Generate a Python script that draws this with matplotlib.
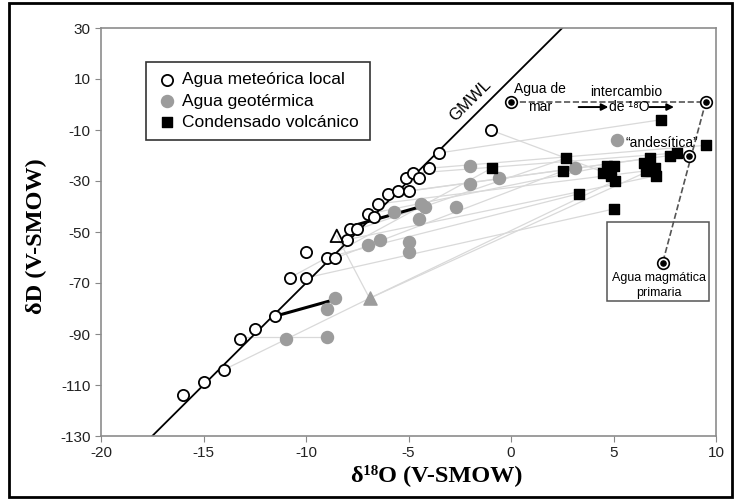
import matplotlib
matplotlib.use("Agg")
import matplotlib.pyplot as plt
from matplotlib.patches import Rectangle, FancyArrowPatch
import numpy as np

# fuentes
plt.rcParams["font.family"] = ["Liberation Sans", "DejaVu Sans"]
plt.rcParams["axes.unicode_minus"] = False

# ===================== datos =====================
# agua meteórica local (círculos abiertos)
met_x = [-16.0, -15.0, -14.0, -13.2, -12.5, -11.5, -10.8, -10.0, -10.0, -9.0, -8.6,
         -8.0, -7.85, -7.5, -7.0, -6.7, -6.5, -6.0, -5.5, -5.0, -5.1, -4.8, -4.5,
         -4.0, -3.5, -1.0]
met_y = [-114, -109, -104, -92, -88, -83, -68, -68, -58, -60, -60,
         -53, -49, -49, -43, -44, -39, -35, -34, -34, -29, -27, -29,
         -25, -19, -10]

# agua geotérmica (círculos grises)
geo_x = [-11.0, -9.0, -9.0, -8.6, -7.0, -6.4, -5.0, -5.0, -5.7, -4.5, -4.4,
         -4.2, -2.7, -2.0, -2.0, -0.6, 3.1, 5.15]
geo_y = [-92, -91, -80, -76, -55, -53, -54, -58, -42, -45, -39,
         -40, -40, -24, -31, -29, -25, -14]

# condensado volcánico (cuadrados negros)
cond_x = [-0.95, 2.7, 2.55, 3.3, 4.5, 4.7, 5.0, 4.9, 5.05, 5.0, 6.5, 6.8,
          6.6, 7.0, 7.05, 7.3, 7.75, 8.1, 9.5]
cond_y = [-25, -21, -26, -35, -27, -24, -24, -28, -30, -41, -23, -21,
          -26, -25, -28, -6, -20, -19, -16]

# triángulos
tri_open_x, tri_open_y = [-8.5], [-51.5]
tri_gray_x, tri_gray_y = [-6.9], [-76]

# aguas de referencia: mar, extremo del intercambio, andesítica, magmática primaria
ref_x = [0.0, 9.5, 8.7, 7.4]
ref_y = [1, 1, -20, -62]

# tendencias (líneas negras gruesas)
trend_x = [[-11.5, -8.6], [-7.9, -4.6]]
trend_y = [[-83, -76.5], [-48, -40.5]]

# líneas de mezcla (gris claro)
mix_x0 = [-3.5, -1.0, -4.0, -4.8, -5.0, -6.0, -6.5, -7.0, -7.5, -8.0, -8.5, -9.0,
          -10.0, -14.0, -6.9, -13.2, -8.5, -10.8, -6.9]
mix_y0 = [-19, -10, -25, -27, -34, -35, -39, -43, -49, -53, -60, -60,
          -68, -104, -76, -91, -51.5, -68, -76]
mix_x1 = [7.3, 5.0, 9.5, 8.1, 7.75, 6.8, 6.6, 4.7, 2.7, 7.05, 2.55, 3.3,
          5.0, -6.9, 5.05, -9.0, -6.9, -0.95, 7.0]
mix_y1 = [-6, -28, -16, -19, -20, -21, -26, -24, -21, -28, -26, -35,
          -41, -76, -30, -91, -76, -25, -25]

# flechas de intercambio de 18O
arrow_x0 = [3.3, 6.75]
arrow_x1 = [4.75, 7.95]
arrow_y = -1

gmwl_x = np.array([-17.5, 2.5])
gmwl_y = 8 * gmwl_x + 10
# ==================================================

fig = plt.figure(figsize=(7.34, 5.0), dpi=100)
ax = fig.add_axes([101 / 734, 64 / 500, 615 / 734, 408 / 500])

# borde negro de la figura
fig.patches.append(Rectangle((9 / 734, 3 / 500), 723 / 734, 494 / 500,
                             transform=fig.transFigure, fill=False,
                             edgecolor="black", linewidth=2))

for x0, y0, x1, y1 in zip(mix_x0, mix_y0, mix_x1, mix_y1):
    ax.plot([x0, x1], [y0, y1], color="#d9d9d9", lw=0.9, zorder=1)

ax.plot(gmwl_x, gmwl_y, color="black", lw=1.3, zorder=2)

for tx, ty in zip(trend_x, trend_y):
    ax.plot(tx, ty, color="black", lw=2.2, zorder=3)

# líneas discontinuas de intercambio
ax.plot([ref_x[0], ref_x[1]], [ref_y[0], ref_y[1]], "--", color="#555555", lw=1.2, zorder=2)
ax.plot([ref_x[1], ref_x[3]], [ref_y[1], ref_y[3]], "--", color="#555555", lw=1.2, zorder=2)

ax.scatter(geo_x, geo_y, s=75, color="#9c9c9c", zorder=4, label="Agua geotérmica")
ax.scatter(cond_x, cond_y, s=60, marker="s", color="black", zorder=5,
           label="Condensado volcánico")
ax.scatter(met_x, met_y, s=65, facecolor="white", edgecolor="black", lw=1.3, zorder=6,
           label="Agua meteórica local")
ax.scatter(tri_open_x, tri_open_y, s=80, marker="^", facecolor="none", edgecolor="black",
           lw=1.3, zorder=6)
ax.scatter(tri_gray_x, tri_gray_y, s=90, marker="^", color="#9c9c9c", zorder=6)
ax.scatter(ref_x, ref_y, s=70, facecolor="white", edgecolor="black", lw=1.2, zorder=7)
ax.scatter(ref_x, ref_y, s=14, color="black", zorder=8)

# textos
ax.text(-2.0, 1.5, "GMWL", rotation=45, fontsize=12, ha="center", va="center")
ax.text(1.4, 6, "Agua de", fontsize=10, ha="center", va="center")
ax.text(1.4, -1, "mar", fontsize=10, ha="center", va="center")
ax.text(5.6, 5, "intercambio", fontsize=10, ha="center", va="center")
ax.text(5.75, -1, "de ¹⁸O", fontsize=10, ha="center", va="center")
for a0, a1 in zip(arrow_x0, arrow_x1):
    ax.add_patch(FancyArrowPatch((a0, arrow_y), (a1, arrow_y), arrowstyle="-|>",
                                 mutation_scale=10, color="black", lw=1.4,
                                 shrinkA=0, shrinkB=0, zorder=6))
ax.text(7.35, -15, "“andesítica”", fontsize=10, ha="center", va="center")

ax.add_patch(Rectangle((4.7, -77), 4.95, 31, fill=False, edgecolor="#555555", lw=1.1,
                       zorder=3))
ax.text(7.2, -68, "Agua magmática", fontsize=9, ha="center", va="center")
ax.text(7.2, -74, "primaria", fontsize=9, ha="center", va="center")

ax.set_xlim(-20, 10)
ax.set_ylim(-130, 30)
ax.set_xticks(np.arange(-20, 11, 5))
ax.set_yticks(np.arange(-130, 31, 20))
ax.tick_params(direction="out", length=4, color="#888888", labelsize=11,
               labelcolor="#222222")
for sp in ax.spines.values():
    sp.set_color("#8c8c8c")
    sp.set_linewidth(1.2)

ax.set_xlabel("δ¹⁸O (V-SMOW)", family=["Liberation Serif", "DejaVu Serif"],
              fontweight="bold", fontsize=17.5)
ax.xaxis.set_label_coords(0.546, -0.068)
ax.set_ylabel("δD (V-SMOW)", family=["Liberation Serif", "DejaVu Serif"],
              fontweight="bold", fontsize=17.5)
ax.yaxis.set_label_coords(-0.088, 0.49)

handles, labels = ax.get_legend_handles_labels()
order = [2, 0, 1]
leg = ax.legend([handles[i] for i in order], [labels[i] for i in order],
                loc="upper left", bbox_to_anchor=(0.073, 0.917), borderaxespad=0,
                fontsize=12.5, frameon=True, fancybox=False, edgecolor="black",
                labelspacing=0.35, handletextpad=0.3, borderpad=0.6, handlelength=1.2)
leg.get_frame().set_linewidth(1.2)

plt.savefig("out.png", dpi=100)
plt.close()
